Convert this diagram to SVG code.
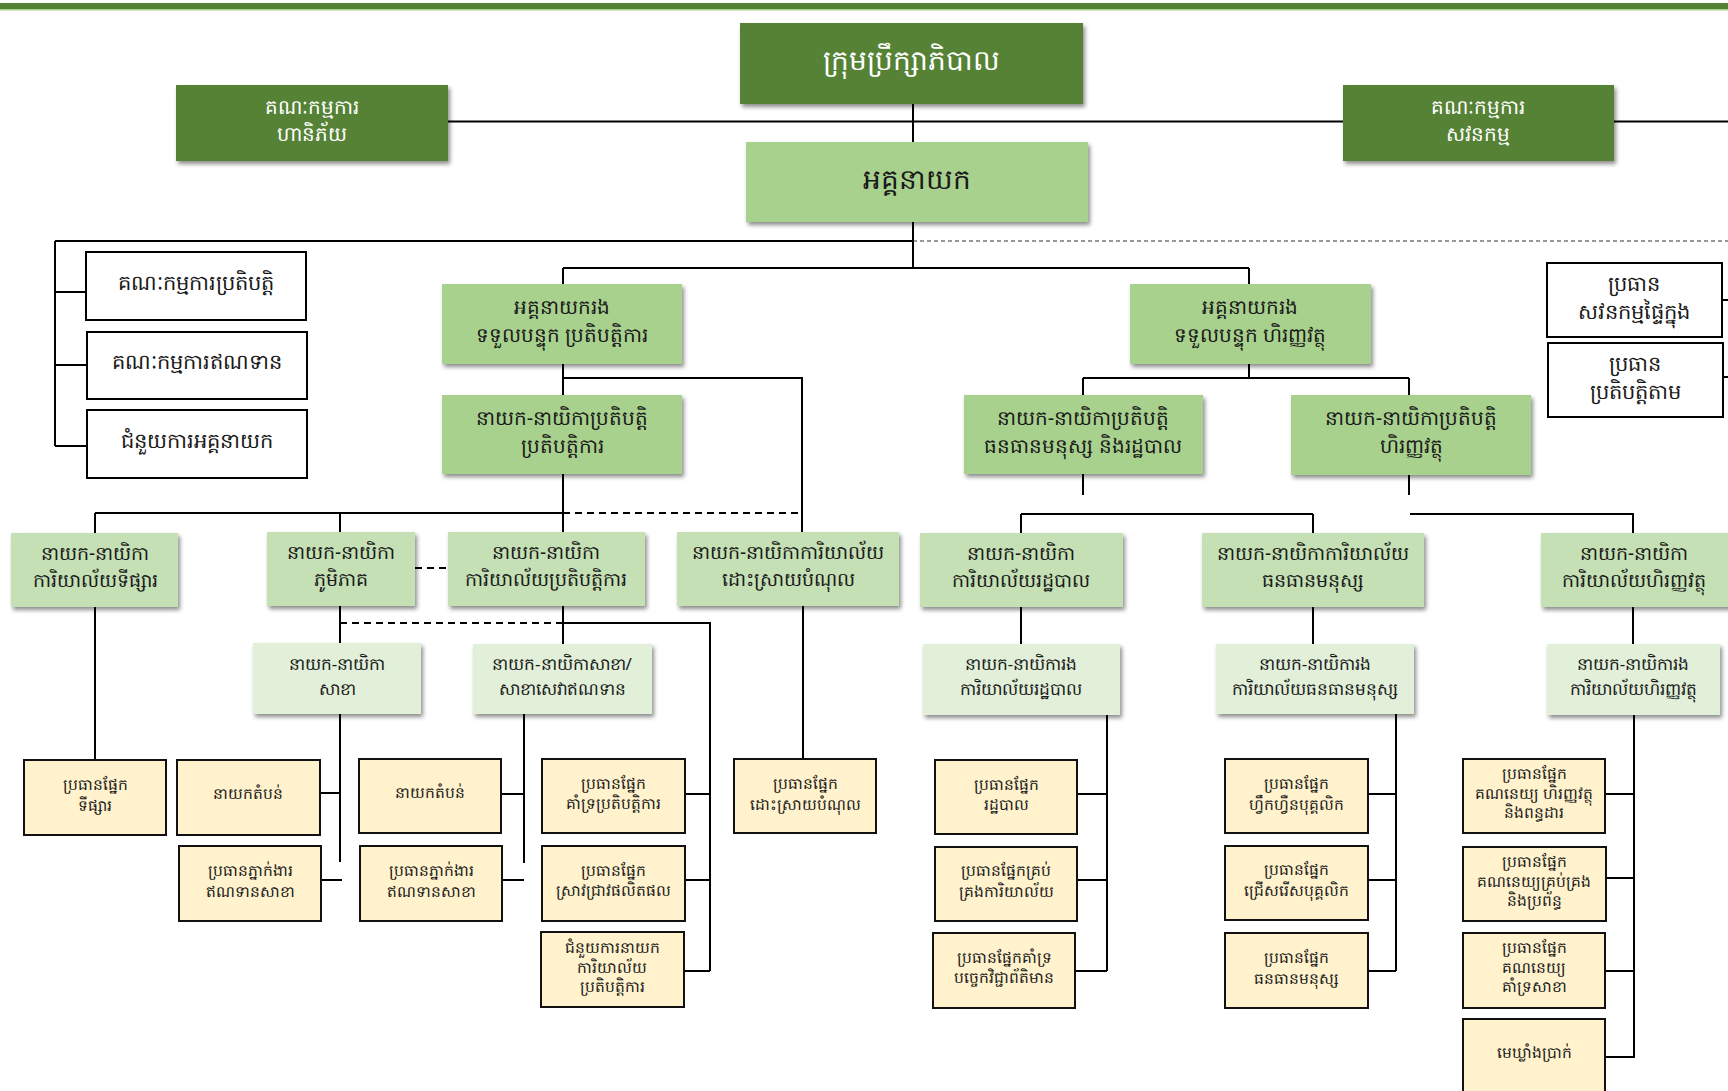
<svg xmlns="http://www.w3.org/2000/svg" width="1728" height="1091" viewBox="0 0 1728 1091">
<defs>
<filter id="sh" x="-10%" y="-10%" width="125%" height="135%">
<feDropShadow dx="2" dy="3" stdDeviation="2" flood-color="#000" flood-opacity="0.45"/>
</filter>
<style>
.dg{fill:#548235;filter:url(#sh)}
.lg{fill:#a9d18e;filter:url(#sh)}
.mg{fill:#c5e0b4;filter:url(#sh)}
.pg{fill:#e2f0d9;filter:url(#sh)}
.wb{fill:#fff;stroke:#000;stroke-width:2}
.cr{fill:#fff2cc;stroke:#111;stroke-width:2}
text{font-family:"Noto Sans",sans-serif;text-anchor:middle;dominant-baseline:central;fill:#1a1a1a;transform:translateY(-3px)}
.w{fill:#fff}
.f30{font-size:28px}.f28{font-size:28px}.f21{font-size:20px}.f21b{font-size:21px}.f19{font-size:19px}.f18{font-size:17px}.f15{font-size:15.5px}
.c{stroke:#000;stroke-width:2;fill:none}
.d{stroke:#000;stroke-width:2;fill:none;stroke-dasharray:7 5}
.dt{stroke:#333;stroke-width:1.2;fill:none;stroke-dasharray:4 3}
</style>
</defs>
<rect x="0" y="0" width="1728" height="1091" fill="#fff"/>
<rect x="0" y="3" width="1728" height="6" fill="#548235"/>
<rect x="0" y="9" width="1728" height="1.5" fill="#a9d18e"/>
<g id="connectors">
<path class="c" d="M448,121.5H1343M1614,121.5H1728M913,104V142M913,222V268M55,241H913M55,241V446M55,292H86M55,365H87M55,446H87"/>
<path class="dt" d="M913,241H1728"/>
<path class="c" d="M563,268H1249M563,268V284M1249,268V284M563,364V395M563,378H802V532M1249,364V378M1083,378H1409M1083,378V395M1409,378V395"/>
<path class="c" d="M563,474V532M95,513H563M95,513V533M340,513V532"/>
<path class="d" d="M563,513H802M415,568H448M340,623H563"/>
<path class="c" d="M1083,474V495M1021,514H1313M1021,514V533M1313,514V533M1409,475V495M1410,514H1633V533"/>
<path class="c" d="M340,606V643M563,606V644M563,623H710V971M1021,607V644M1313,607V644M1633,607V644M95,607V760M803,606V759"/>
<path class="c" d="M340,714V862M320,793H340M321,880H342M524,714V863M501,794H524M502,880H524M685,794H710M685,880H710M684,971H710"/>
<path class="c" d="M1107,715V971M1077,794H1107M1077,880H1107M1075,971H1107M1396,714V971M1368,794H1396M1368,880H1396M1368,971H1396"/>
<path class="c" d="M1634,715V1058M1605,794H1634M1606,878H1634M1605,971H1634M1605,1057H1634M1722,300H1728M1723,377H1728"/>
</g>
<g id="board"><rect class="dg" x="740" y="23" width="343" height="81"/><text class="w f30" x="911" y="62">ក្រុមប្រឹក្សាភិបាល</text></g>
<g id="risk"><rect class="dg" x="176" y="85" width="272" height="76"/><text class="w f21" x="312" y="109">គណៈកម្មការ</text><text class="w f21" x="312" y="136">ហានិភ័យ</text></g>
<g id="audit"><rect class="dg" x="1343" y="85" width="271" height="76"/><text class="w f21" x="1478" y="109">គណៈកម្មការ</text><text class="w f21" x="1478" y="136">សវនកម្ម</text></g>
<g id="ceo"><rect class="lg" x="746" y="142" width="342" height="80"/><text class="f28" x="917" y="181">អគ្គនាយក</text></g>
<g id="exec"><rect class="wb" x="86" y="252" width="220" height="68"/><text class="f21b" x="196" y="285">គណៈកម្មការប្រតិបត្តិ</text></g>
<g id="credit"><rect class="wb" x="87" y="332" width="220" height="67"/><text class="f21b" x="197" y="364">គណៈកម្មការឥណទាន</text></g>
<g id="asst"><rect class="wb" x="87" y="410" width="220" height="68"/><text class="f21b" x="197" y="443">ជំនួយការអគ្គនាយក</text></g>
<g id="vpops"><rect class="lg" x="442" y="284" width="240" height="80"/><text class="f21" x="562" y="309">អគ្គនាយករង</text><text class="f21" x="562" y="337">ទទួលបន្ទុក ប្រតិបត្តិការ</text></g>
<g id="vpfin"><rect class="lg" x="1130" y="284" width="241" height="80"/><text class="f21" x="1250" y="309">អគ្គនាយករង</text><text class="f21" x="1250" y="337">ទទួលបន្ទុក ហិរញ្ញវត្ថុ</text></g>
<g id="ia"><rect class="wb" x="1547" y="263" width="175" height="74"/><text class="f21b" x="1634" y="286">ប្រធាន</text><text class="f21b" x="1634" y="314">សវនកម្មផ្ទៃក្នុង</text></g>
<g id="comp"><rect class="wb" x="1548" y="343" width="175" height="74"/><text class="f21b" x="1635" y="366">ប្រធាន</text><text class="f21b" x="1635" y="394">ប្រតិបត្តិតាម</text></g>
<g id="opsdir"><rect class="lg" x="442" y="395" width="240" height="79"/><text class="f21" x="562" y="420">នាយក-នាយិកាប្រតិបត្តិ</text><text class="f21" x="562" y="448">ប្រតិបត្តិការ</text></g>
<g id="hrdir"><rect class="lg" x="964" y="395" width="239" height="79"/><text class="f21" x="1083" y="420">នាយក-នាយិកាប្រតិបត្តិ</text><text class="f21" x="1083" y="448">ធនធានមនុស្ស និងរដ្ឋបាល</text></g>
<g id="findir"><rect class="lg" x="1291" y="395" width="240" height="80"/><text class="f21" x="1411" y="420">នាយក-នាយិកាប្រតិបត្តិ</text><text class="f21" x="1411" y="448">ហិរញ្ញវត្ថុ</text></g>
<g id="mkt"><rect class="mg" x="11" y="533" width="167" height="74"/><text class="f19" x="95" y="556">នាយក-នាយិកា</text><text class="f19" x="95" y="583">ការិយាល័យទីផ្សារ</text></g>
<g id="region"><rect class="mg" x="267" y="532" width="148" height="74"/><text class="f19" x="341" y="555">នាយក-នាយិកា</text><text class="f19" x="341" y="582">ភូមិភាគ</text></g>
<g id="opsoff"><rect class="mg" x="448" y="532" width="197" height="74"/><text class="f19" x="546" y="555">នាយក-នាយិកា</text><text class="f19" x="546" y="582">ការិយាល័យប្រតិបត្តិការ</text></g>
<g id="debt"><rect class="mg" x="677" y="532" width="222" height="74"/><text class="f19" x="788" y="555">នាយក-នាយិកាការិយាល័យ</text><text class="f19" x="788" y="582">ដោះស្រាយបំណុល</text></g>
<g id="admoff"><rect class="mg" x="920" y="533" width="203" height="74"/><text class="f19" x="1021" y="556">នាយក-នាយិកា</text><text class="f19" x="1021" y="583">ការិយាល័យរដ្ឋបាល</text></g>
<g id="hroff"><rect class="mg" x="1202" y="533" width="222" height="74"/><text class="f19" x="1313" y="556">នាយក-នាយិកាការិយាល័យ</text><text class="f19" x="1313" y="583">ធនធានមនុស្ស</text></g>
<g id="finoff"><rect class="mg" x="1541" y="533" width="192" height="74"/><text class="f19" x="1634" y="556">នាយក-នាយិកា</text><text class="f19" x="1634" y="583">ការិយាល័យហិរញ្ញវត្ថុ</text></g>
<g id="branch"><rect class="pg" x="253" y="643" width="168" height="71"/><text class="f18" x="337" y="666">នាយក-នាយិកា</text><text class="f18" x="337" y="691">សាខា</text></g>
<g id="subbranch"><rect class="pg" x="473" y="644" width="179" height="70"/><text class="f18" x="562" y="666">នាយក-នាយិកាសាខា/</text><text class="f18" x="562" y="691">សាខាសេវាឥណទាន</text></g>
<g id="admdep"><rect class="pg" x="923" y="644" width="197" height="71"/><text class="f18" x="1021" y="666">នាយក-នាយិការង</text><text class="f18" x="1021" y="691">ការិយាល័យរដ្ឋបាល</text></g>
<g id="hrdep"><rect class="pg" x="1216" y="644" width="198" height="70"/><text class="f18" x="1315" y="666">នាយក-នាយិការង</text><text class="f18" x="1315" y="691">ការិយាល័យធនធានមនុស្ស</text></g>
<g id="findep"><rect class="pg" x="1547" y="644" width="173" height="71"/><text class="f18" x="1633" y="666">នាយក-នាយិការង</text><text class="f18" x="1633" y="691">ការិយាល័យហិរញ្ញវត្ថុ</text></g>
<g id="mkthead"><rect class="cr" x="24" y="760" width="142" height="75"/><text class="f15" x="95" y="787">ប្រធានផ្នែក</text><text class="f15" x="95" y="808">ទីផ្សារ</text></g>
<g id="rd1"><rect class="cr" x="177" y="760" width="143" height="75"/><text class="f15" x="248" y="796">នាយកតំបន់</text></g>
<g id="ag1"><rect class="cr" x="179" y="846" width="142" height="75"/><text class="f15" x="250" y="873">ប្រធានភ្នាក់ងារ</text><text class="f15" x="250" y="894">ឥណទានសាខា</text></g>
<g id="rd2"><rect class="cr" x="359" y="759" width="142" height="74"/><text class="f15" x="430" y="795">នាយកតំបន់</text></g>
<g id="ag2"><rect class="cr" x="360" y="846" width="142" height="75"/><text class="f15" x="431" y="873">ប្រធានភ្នាក់ងារ</text><text class="f15" x="431" y="894">ឥណទានសាខា</text></g>
<g id="opsup"><rect class="cr" x="542" y="759" width="143" height="74"/><text class="f15" x="613" y="786">ប្រធានផ្នែក</text><text class="f15" x="613" y="806">គាំទ្រប្រតិបត្តិការ</text></g>
<g id="prodres"><rect class="cr" x="542" y="846" width="143" height="75"/><text class="f15" x="613" y="873">ប្រធានផ្នែក</text><text class="f15" x="613" y="893">ស្រាវជ្រាវផលិតផល</text></g>
<g id="opsasst"><rect class="cr" x="541" y="932" width="143" height="75"/><text class="f15" x="612" y="950">ជំនួយការនាយក</text><text class="f15" x="612" y="970">ការិយាល័យ</text><text class="f15" x="612" y="989">ប្រតិបត្តិការ</text></g>
<g id="debthead"><rect class="cr" x="734" y="759" width="142" height="74"/><text class="f15" x="805" y="786">ប្រធានផ្នែក</text><text class="f15" x="805" y="807">ដោះស្រាយបំណុល</text></g>
<g id="admhead"><rect class="cr" x="935" y="760" width="142" height="74"/><text class="f15" x="1006" y="787">ប្រធានផ្នែក</text><text class="f15" x="1006" y="807">រដ្ឋបាល</text></g>
<g id="offmgmt"><rect class="cr" x="935" y="847" width="142" height="74"/><text class="f15" x="1006" y="873">ប្រធានផ្នែកគ្រប់</text><text class="f15" x="1006" y="894">គ្រងការិយាល័យ</text></g>
<g id="itsup"><rect class="cr" x="933" y="933" width="142" height="75"/><text class="f15" x="1004" y="960">ប្រធានផ្នែកគាំទ្រ</text><text class="f15" x="1004" y="980">បច្ចេកវិជ្ជាព័តិមាន</text></g>
<g id="train"><rect class="cr" x="1225" y="759" width="143" height="74"/><text class="f15" x="1296" y="786">ប្រធានផ្នែក</text><text class="f15" x="1296" y="807">ហ្វឹកហ្វឺនបុគ្គលិក</text></g>
<g id="recruit"><rect class="cr" x="1225" y="846" width="143" height="74"/><text class="f15" x="1296" y="872">ប្រធានផ្នែក</text><text class="f15" x="1296" y="893">ជ្រើសរើសបុគ្គលិក</text></g>
<g id="hrhead"><rect class="cr" x="1225" y="933" width="143" height="75"/><text class="f15" x="1296" y="960">ប្រធានផ្នែក</text><text class="f15" x="1296" y="981">ធនធានមនុស្ស</text></g>
<g id="acct"><rect class="cr" x="1463" y="759" width="142" height="74"/><text class="f15" x="1534" y="776">ប្រធានផ្នែក</text><text class="f15" x="1534" y="796">គណនេយ្យ ហិរញ្ញវត្ថុ</text><text class="f15" x="1534" y="815">និងពន្ធដារ</text></g>
<g id="mgmtacct"><rect class="cr" x="1463" y="847" width="143" height="74"/><text class="f15" x="1534" y="864">ប្រធានផ្នែក</text><text class="f15" x="1534" y="884">គណនេយ្យគ្រប់គ្រង</text><text class="f15" x="1534" y="903">និងប្រព័ន្ធ</text></g>
<g id="bracct"><rect class="cr" x="1463" y="933" width="142" height="75"/><text class="f15" x="1534" y="950">ប្រធានផ្នែក</text><text class="f15" x="1534" y="970">គណនេយ្យ</text><text class="f15" x="1534" y="989">គាំទ្រសាខា</text></g>
<g id="cashier"><rect class="cr" x="1463" y="1019" width="142" height="80"/><text class="f15" x="1534" y="1055">មេឃ្លាំងប្រាក់</text></g>
</svg>
